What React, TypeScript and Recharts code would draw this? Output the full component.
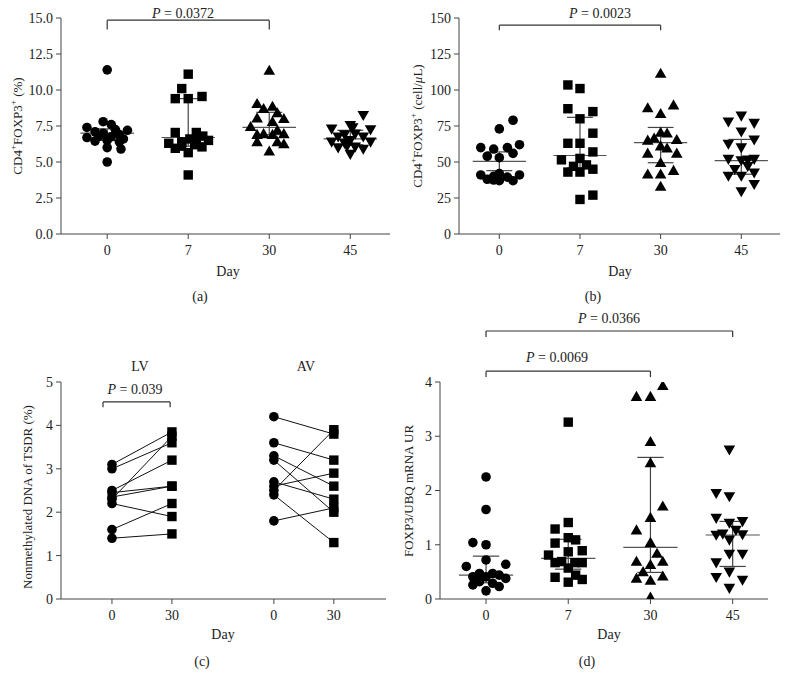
import React from "react";
import { ScatterChart, Scatter, XAxis, YAxis, ReferenceLine } from "recharts";

const FONT = '"Liberation Serif", "Times New Roman", serif';
const INK = "#222";
const AXIS = "#444";

// day columns used by panels a, b, d
const dayLabels = ["0", "7", "30", "45"];

// (a) CD4+FOXP3+ (%), points as [offset inside the day column, value]
const pctDay0 = [[0, 11.4], [-0.05, 7.8], [0.05, 7.6], [-0.25, 7.4], [0.25, 7.2], [-0.15, 7.1], [0.1, 7.25], [-0.05, 7.0], [0.15, 6.9], [-0.25, 6.7], [-0.1, 6.8], [0.05, 6.75], [0.2, 6.6], [-0.15, 6.45], [0, 6.5], [0.15, 6.4], [0, 6.0], [0.17, 5.9], [0, 5.0]];
const pctDay7 = [[0, 11.1], [-0.08, 10.1], [-0.16, 9.4], [0, 9.4], [0.17, 9.55], [-0.16, 7.05], [0.1, 7.05], [0.18, 6.8], [-0.24, 6.3], [-0.08, 6.4], [0.02, 6.6], [0.1, 6.5], [-0.16, 5.95], [0.17, 6.05], [0.25, 6.5], [0, 5.65], [-0.08, 6.1], [0.08, 6.2], [0, 4.1]];
const pctDay30 = [[0, 11.35], [-0.15, 9.05], [-0.07, 8.7], [0.04, 8.85], [0.1, 8.4], [0.18, 8.0], [-0.15, 8.05], [0.04, 7.8], [-0.23, 7.45], [0.1, 7.2], [-0.15, 6.9], [-0.07, 6.95], [0.04, 6.9], [0.18, 6.95], [-0.15, 6.4], [0.1, 6.4], [0.18, 6.25], [0, 5.75]];
const pctDay45 = [[0.16, 8.25], [-0.23, 7.3], [0, 7.55], [0.25, 7.25], [-0.07, 6.9], [0.06, 6.95], [-0.15, 6.75], [0.16, 6.75], [-0.23, 6.4], [-0.07, 6.3], [0, 6.5], [0.25, 6.4], [-0.15, 6.0], [0.06, 6.05], [0.16, 5.9], [0, 5.55], [0.03, 7.4], [-0.04, 6.1]];
const pctMedian = [7.0, 6.7, 7.4, 6.6];
const pctQ1 = [6.5, 6.1, 6.9, 6.2];
const pctQ3 = [7.3, 9.4, 8.45, 7.2];
const pctTicks = [0, 2.5, 5, 7.5, 10, 12.5, 15];

// (b) CD4+FOXP3+ (cell/uL)
const cellDay0 = [[0.17, 79], [0, 73], [-0.23, 60], [-0.07, 59], [0.1, 60], [0.25, 62], [-0.15, 54], [0, 53], [0.17, 56], [-0.23, 41], [-0.15, 38], [-0.07, 40], [0, 42], [0, 37], [0.1, 39.5], [0.17, 37], [0.25, 41], [-0.07, 37.5]];
const cellDay7 = [[-0.15, 103.5], [0, 101], [-0.15, 87], [0.16, 85], [0, 80], [0.16, 70], [-0.15, 63], [0, 63], [0.16, 57], [-0.23, 51.5], [0, 52.5], [-0.08, 47], [0.08, 48], [-0.15, 43], [0, 43], [0.16, 45], [0, 24], [0.16, 27]];
const cellDay30 = [[0, 111.5], [-0.16, 87.5], [0.16, 89.5], [0, 83.5], [-0.16, 65], [-0.08, 66.5], [0, 70.5], [0.08, 70], [0.2, 65.5], [0, 61], [0.08, 59.5], [-0.16, 56], [0.2, 56], [0, 49.5], [-0.16, 41.5], [0, 41.5], [0.16, 44], [0, 33]];
const cellDay45 = [[0, 82], [-0.16, 78], [0.16, 77], [0, 71], [-0.16, 62.5], [0.16, 65.5], [0, 60], [-0.16, 52], [0, 51], [0.08, 51.5], [0.16, 52], [-0.08, 45], [0.08, 47], [-0.16, 40.3], [0, 40.3], [0.16, 42.5], [0, 29.5], [0.16, 34.5]];
const cellMedian = [50.5, 54.5, 63.5, 51];
const cellQ1 = [44, 46, 49.5, 41.5];
const cellQ3 = [57, 81, 74, 65.7];
const cellTicks = [0, 25, 50, 75, 100, 125, 150];

// (c) nonmethylated TSDR (%), paired day 0 -> day 30
const lvDay0 = [3.1, 3.0, 2.5, 2.45, 2.35, 2.3, 2.2, 1.6, 1.4];
const lvDay30 = [3.85, 3.6, 3.2, 2.6, 2.6, 3.75, 1.9, 2.2, 1.5];
const avDay0 = [4.2, 3.6, 3.3, 3.2, 2.7, 2.6, 2.5, 2.4, 1.8];
const avDay30 = [3.8, 3.2, 2.6, 2.0, 2.3, 2.9, 3.9, 1.3, 2.1];
const pairedLabels = ["0", "30", "0", "30"];
const tsdrTicks = [0, 1, 2, 3, 4, 5];

// (d) FOXP3/UBQ mRNA UR
const mrnaDay0 = [[0, 2.25], [0, 1.65], [-0.16, 1.04], [0, 1.0], [0, 0.72], [-0.24, 0.6], [0.24, 0.64], [-0.16, 0.41], [-0.08, 0.47], [0, 0.41], [0.08, 0.47], [0.16, 0.44], [0.24, 0.38], [-0.16, 0.26], [-0.08, 0.32], [0.08, 0.29], [0.16, 0.23], [0, 0.15]];
const mrnaDay7 = [[0, 3.26], [0, 1.41], [-0.16, 1.29], [0, 1.13], [0.09, 1.09], [-0.16, 1.03], [-0.24, 0.81], [0, 0.87], [0.17, 0.89], [-0.16, 0.67], [-0.08, 0.69], [0.08, 0.67], [0.17, 0.67], [0, 0.57], [-0.16, 0.4], [0.09, 0.44], [0, 0.31], [0.17, 0.36]];
const mrnaDay30 = [[0.15, 3.93], [-0.17, 3.73], [0, 3.73], [0, 2.9], [0, 2.51], [0.15, 1.71], [0, 1.5], [-0.17, 1.27], [0, 1.04], [0.08, 0.84], [-0.17, 0.69], [0.15, 0.69], [0, 0.63], [-0.09, 0.5], [-0.17, 0.38], [0.15, 0.42], [0, 0.34], [0, 0.03]];
const mrnaDay45 = [[-0.04, 2.75], [-0.2, 1.95], [-0.04, 1.89], [-0.2, 1.49], [-0.04, 1.4], [0.12, 1.43], [-0.2, 1.18], [-0.12, 1.2], [0.04, 1.27], [0.12, 1.19], [-0.04, 1.09], [-0.04, 0.83], [0.12, 0.83], [-0.2, 0.67], [-0.04, 0.5], [-0.2, 0.4], [0.12, 0.35], [-0.04, 0.2]];
const mrnaMedian = [0.44, 0.75, 0.95, 1.18];
const mrnaQ1 = [0.3, 0.55, 0.49, 0.6];
const mrnaQ3 = [0.79, 1.1, 2.61, 1.43];
const mrnaTicks = [0, 1, 2, 3, 4];

type Kind = "circle" | "square" | "up" | "down";
const groupKinds: Kind[] = ["circle", "square", "up", "down"];

function drawMarker(kind: Kind, cx: number, cy: number) {
  if (kind === "circle") return <circle cx={cx} cy={cy} r={4.8} fill="#000" />;
  if (kind === "square") return <rect x={cx - 4.7} y={cy - 4.7} width={9.4} height={9.4} fill="#000" />;
  if (kind === "up") return <path d={`M${cx},${cy - 5.8}L${cx + 5.8},${cy + 4.3}L${cx - 5.8},${cy + 4.3}Z`} fill="#000" />;
  return <path d={`M${cx},${cy + 5.8}L${cx + 5.8},${cy - 4.3}L${cx - 5.8},${cy - 4.3}Z`} fill="#000" />;
}

const markerShape = (kind: Kind) => (props: any) => {
  if (props.cx == null || props.cy == null) return <g />;
  return drawMarker(kind, props.cx, props.cy);
};

const pairShape = (props: any) => {
  if (props.cx == null || props.cy == null) return <g />;
  return drawMarker(props.payload?.day === 0 ? "circle" : "square", props.cx, props.cy);
};

const toPoints = (rows: number[][], group: number) => rows.map(([dx, v]) => ({ x: group + dx, y: v }));

const seg = (x1: number, y1: number, x2: number, y2: number, key: string, color = AXIS) => (
  <ReferenceLine
    key={key}
    segment={[{ x: x1, y: y1 }, { x: x2, y: y2 }]}
    stroke={color}
    strokeWidth={1.2}
    ifOverflow="visible"
  />
);

// median line with interquartile whiskers
function summary(median: number[], q1: number[], q3: number[]) {
  const out: any[] = [];
  median.forEach((m, i) => {
    out.push(seg(i - 0.33, m, i + 0.33, m, `m${i}`, "#555"));
    out.push(seg(i, q1[i], i, q3[i], `v${i}`));
    out.push(seg(i - 0.16, q1[i], i + 0.16, q1[i], `l${i}`));
    out.push(seg(i - 0.16, q3[i], i + 0.16, q3[i], `h${i}`));
  });
  return out;
}

function bracket(x1: number, x2: number, y: number, drop: number, key: string) {
  return [
    seg(x1, y, x2, y, key + "h", "#333"),
    seg(x1, y, x1, y - drop, key + "a", "#333"),
    seg(x2, y, x2, y - drop, key + "b", "#333"),
  ];
}

const tickStyle = { fill: INK, fontSize: 14, fontFamily: FONT };

function Txt({ x, y, children, rotate, size = 14 }: { x: number; y: number; children: any; rotate?: boolean; size?: number }) {
  return (
    <div
      style={{
        position: "absolute",
        left: x,
        top: y,
        transform: `translate(-50%, -50%)${rotate ? " rotate(-90deg)" : ""}`,
        whiteSpace: "nowrap",
        fontFamily: FONT,
        fontSize: size,
        lineHeight: 1,
        color: INK,
      }}
    >
      {children}
    </div>
  );
}

const sup = (s: string) => <sup style={{ fontSize: "0.7em", lineHeight: 0 }}>{s}</sup>;

function DotPanel(props: {
  left: number; top: number; width: number; height: number; margin: any;
  xDomain: number[]; yDomain: number[]; yTicks: number[]; yFormat: (v: number) => string;
  groups: number[][][]; median: number[]; q1: number[]; q3: number[]; brackets: any[];
}) {
  return (
    <div style={{ position: "absolute", left: props.left, top: props.top }}>
      <ScatterChart width={props.width} height={props.height} margin={props.margin}>
        <XAxis
          type="number" dataKey="x" domain={props.xDomain} allowDataOverflow
          ticks={[0, 1, 2, 3]} interval={0} tickFormatter={(v: number) => dayLabels[v]}
          stroke={AXIS} tickSize={5} tickMargin={6} tick={tickStyle} height={30}
        />
        <YAxis
          type="number" dataKey="y" domain={props.yDomain} allowDataOverflow
          ticks={props.yTicks} interval={0} tickFormatter={props.yFormat}
          stroke={AXIS} tickSize={5} tickMargin={3} tick={tickStyle} width={40}
        />
        {props.groups.map((g, i) => (
          <Scatter key={i} data={toPoints(g, i)} shape={markerShape(groupKinds[i])} isAnimationActive={false} />
        ))}
        {summary(props.median, props.q1, props.q3)}
        {props.brackets}
      </ScatterChart>
    </div>
  );
}

// column positions of the paired panel
const pairedX = [0, 1, 2.7, 3.7];

function PairedPanel() {
  const lv = lvDay0.map((v, i) => [{ x: pairedX[0], y: v, day: 0 }, { x: pairedX[1], y: lvDay30[i], day: 30 }]);
  const av = avDay0.map((v, i) => [{ x: pairedX[2], y: v, day: 0 }, { x: pairedX[3], y: avDay30[i], day: 30 }]);
  return (
    <div style={{ position: "absolute", left: 0, top: 320 }}>
      <ScatterChart width={400} height={355} margin={{ top: 62, right: 14, left: 21, bottom: 46 }}>
        <XAxis
          type="number" dataKey="x" domain={[-0.85, 4.57]} allowDataOverflow
          ticks={pairedX} interval={0} tickFormatter={(v: number) => pairedLabels[pairedX.indexOf(v)]}
          stroke={AXIS} tickSize={5} tickMargin={6} tick={tickStyle} height={30}
        />
        <YAxis
          type="number" dataKey="y" domain={[0, 5]} allowDataOverflow
          ticks={tsdrTicks} interval={0}
          stroke={AXIS} tickSize={5} tickMargin={3} tick={tickStyle} width={40}
        />
        {[...lv, ...av].map((d, i) => (
          <Scatter key={i} data={d} line={{ stroke: "#111", strokeWidth: 1 }} shape={pairShape} isAnimationActive={false} />
        ))}
        {bracket(-0.15, 0.97, 4.54, 0.12, "c")}
      </ScatterChart>
    </div>
  );
}

export default function App() {
  return (
    <div style={{ position: "absolute", left: 0, top: 0, width: 789, height: 675, background: "#fff", overflow: "hidden" }}>
      <DotPanel
        left={0} top={0} width={400} height={320}
        margin={{ top: 18, right: 10, left: 21, bottom: 56 }}
        xDomain={[-0.57, 3.49]} yDomain={[0, 15]} yTicks={pctTicks} yFormat={(v) => v.toFixed(1)}
        groups={[pctDay0, pctDay7, pctDay30, pctDay45]}
        median={pctMedian} q1={pctQ1} q3={pctQ3}
        brackets={bracket(0, 2, 14.85, 0.65, "a")}
      />
      <DotPanel
        left={390} top={0} width={399} height={320}
        margin={{ top: 18, right: 9, left: 29, bottom: 56 }}
        xDomain={[-0.5, 3.48]} yDomain={[0, 150]} yTicks={cellTicks} yFormat={(v) => String(v)}
        groups={[cellDay0, cellDay7, cellDay30, cellDay45]}
        median={cellMedian} q1={cellQ1} q3={cellQ3}
        brackets={bracket(0, 2, 145, 3.5, "b")}
      />
      <PairedPanel />
      <DotPanel
        left={390} top={310} width={399} height={365}
        margin={{ top: 72, right: 21, left: 10, bottom: 46 }}
        xDomain={[-0.56, 3.43]} yDomain={[0, 4]} yTicks={mrnaTicks} yFormat={(v) => String(v)}
        groups={[mrnaDay0, mrnaDay7, mrnaDay30, mrnaDay45]}
        median={mrnaMedian} q1={mrnaQ1} q3={mrnaQ3}
        brackets={[...bracket(0, 3, 4.94, 0.11, "d1"), ...bracket(0, 2, 4.2, 0.11, "d2")]}
      />

      <Txt x={183} y={14}><i>P</i> = 0.0372</Txt>
      <Txt x={600} y={14}><i>P</i> = 0.0023</Txt>
      <Txt x={135} y={390}><i>P</i> = 0.039</Txt>
      <Txt x={557} y={358}><i>P</i> = 0.0069</Txt>
      <Txt x={609} y={319}><i>P</i> = 0.0366</Txt>
      <Txt x={140} y={367}>LV</Txt>
      <Txt x={306} y={367}>AV</Txt>

      <Txt x={17} y={126} size={13} rotate>CD4{sup("+")}FOXP3{sup("+")} (%)</Txt>
      <Txt x={417} y={126} size={13} rotate>CD4{sup("+")}FOXP3{sup("+")} (cell/<i>μ</i>L)</Txt>
      <Txt x={27} y={497} size={13} rotate>Nonmethylated DNA of TSDR (%)</Txt>
      <Txt x={408} y={491} size={13} rotate>FOXP3/UBQ mRNA UR</Txt>

      <Txt x={228} y={272}>Day</Txt>
      <Txt x={620} y={272}>Day</Txt>
      <Txt x={223} y={635}>Day</Txt>
      <Txt x={609} y={635}>Day</Txt>

      <Txt x={200} y={297}>(a)</Txt>
      <Txt x={593} y={297}>(b)</Txt>
      <Txt x={202} y={662}>(c)</Txt>
      <Txt x={587} y={662}>(d)</Txt>
    </div>
  );
}
